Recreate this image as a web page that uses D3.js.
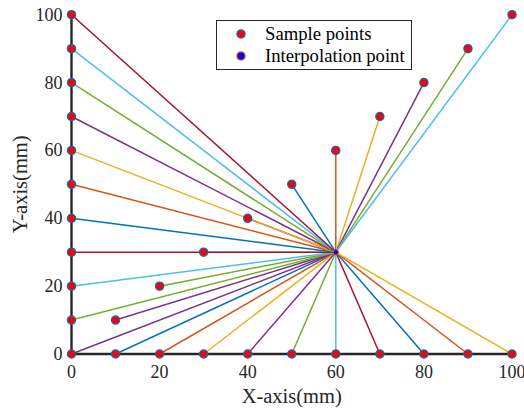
<!DOCTYPE html>
<html><head><meta charset="utf-8">
<script src="https://cdn.jsdelivr.net/npm/d3@7"></script>
<style>body{margin:0;background:#fff}svg{display:block}</style>
</head><body>
<script>
// Data
const leftEdgeY = [0,10,20,30,40,50,60,70,80,90,100];      // points (0, y)
const bottomEdgeX = [10,20,30,40,50,60,70,80,90,100];      // points (x, 0)
const diagonalV = [10,20,30,40,50,60,70,80,90,100];        // points (v, v)
const interpPoint = {x:60, y:30};
const xTicks = [0,20,40,60,80,100];
const yTicks = [0,20,40,60,80,100];
const legendLabels = ["Sample points","Interpolation point"];
const palette = ["#0072BD","#D95319","#EDB120","#7E2F8E","#77AC30","#4DBEEE","#A2142F"];

const W=524,H=408;
const margin={left:71.5,right:12,top:14.7,bottom:54};
const svg=d3.select("body").append("svg").attr("width",W).attr("height",H);
const x=d3.scaleLinear().domain([0,100]).range([margin.left,W-margin.right]);
const y=d3.scaleLinear().domain([0,100]).range([H-margin.bottom,margin.top]);

// Build sample list in colour order
let samples=[];
leftEdgeY.forEach(v=>samples.push({x:0,y:v,g:"left"}));
bottomEdgeX.forEach(v=>samples.push({x:v,y:0,g:"bottom"}));
diagonalV.forEach(v=>samples.push({x:v,y:v,g:"diag"}));
samples.forEach((d,i)=>d.c=palette[(i+3)%7]);
const drawOrder=["diag","bottom","left"];
const ordered=drawOrder.flatMap(g=>samples.filter(d=>d.g===g));

const font="'Liberation Serif','Times New Roman',serif";

// lines
svg.append("g").selectAll("line").data(ordered).join("line")
  .attr("x1",d=>x(d.x)).attr("y1",d=>y(d.y))
  .attr("x2",x(interpPoint.x)).attr("y2",y(interpPoint.y))
  .attr("stroke",d=>d.c).attr("stroke-width",1.5);

// axes
const axCol="#262626";
svg.append("line").attr("x1",x(0)).attr("x2",x(100)).attr("y1",y(0)).attr("y2",y(0))
  .attr("stroke",axCol).attr("stroke-width",2.4).attr("stroke-linecap","square");
svg.append("line").attr("x1",x(0)).attr("x2",x(0)).attr("y1",y(0)).attr("y2",y(100))
  .attr("stroke",axCol).attr("stroke-width",2.4).attr("stroke-linecap","square");
svg.append("g").selectAll("line").data(xTicks).join("line")
  .attr("x1",d=>x(d)).attr("x2",d=>x(d)).attr("y1",y(0)).attr("y2",y(0)-4)
  .attr("stroke",axCol).attr("stroke-width",1.5);
svg.append("g").selectAll("line").data(yTicks).join("line")
  .attr("x1",x(0)).attr("x2",x(0)+4).attr("y1",d=>y(d)).attr("y2",d=>y(d))
  .attr("stroke",axCol).attr("stroke-width",1.5);
svg.append("g").selectAll("text").data(xTicks).join("text")
  .attr("x",d=>x(d)).attr("y",y(0)+24).attr("text-anchor","middle")
  .attr("font-family",font).attr("font-size",18).attr("fill",axCol).text(d=>d);
svg.append("g").selectAll("text").data(yTicks).join("text")
  .attr("x",x(0)-9).attr("y",d=>y(d)+6).attr("text-anchor","end")
  .attr("font-family",font).attr("font-size",18).attr("fill",axCol).text(d=>d);
svg.append("text").attr("x",(x(0)+x(100))/2).attr("y",403).attr("text-anchor","middle")
  .attr("font-family",font).attr("font-size",20.5).attr("fill",axCol).text("X-axis(mm)");
svg.append("text").attr("transform",`translate(27,${(y(0)+y(100))/2}) rotate(-90)`)
  .attr("text-anchor","middle")
  .attr("font-family",font).attr("font-size",20.5).attr("fill",axCol).text("Y-axis(mm)");

// sample markers
svg.append("g").selectAll("circle").data(samples).join("circle")
  .attr("cx",d=>x(d.x)).attr("cy",d=>y(d.y)).attr("r",4.1)
  .attr("fill","#FF0000").attr("stroke","#0072BD").attr("stroke-width",1.3);
// interpolation point
svg.append("circle").attr("cx",x(interpPoint.x)).attr("cy",y(interpPoint.y)).attr("r",2.6)
  .attr("fill","#0000FF").attr("stroke","#D95319").attr("stroke-width",1);

// legend
const lg=svg.append("g");
lg.append("rect").attr("x",216.5).attr("y",20.5).attr("width",195).attr("height",49)
  .attr("fill","#fff").attr("stroke",axCol).attr("stroke-width",1);
const legStyles=[{fill:"#FF0000",stroke:"#0072BD"},{fill:"#0000FF",stroke:"#D95319"}];
legendLabels.forEach((t,i)=>{
  const cy=34+i*22;
  lg.append("circle").attr("cx",241).attr("cy",cy).attr("r",4.1)
    .attr("fill",legStyles[i].fill).attr("stroke",legStyles[i].stroke).attr("stroke-width",1.3);
  lg.append("text").attr("x",265).attr("y",cy+5.5).attr("font-family",font)
    .attr("font-size",18.7).attr("fill","#000").text(t);
});
</script>
</body></html>
